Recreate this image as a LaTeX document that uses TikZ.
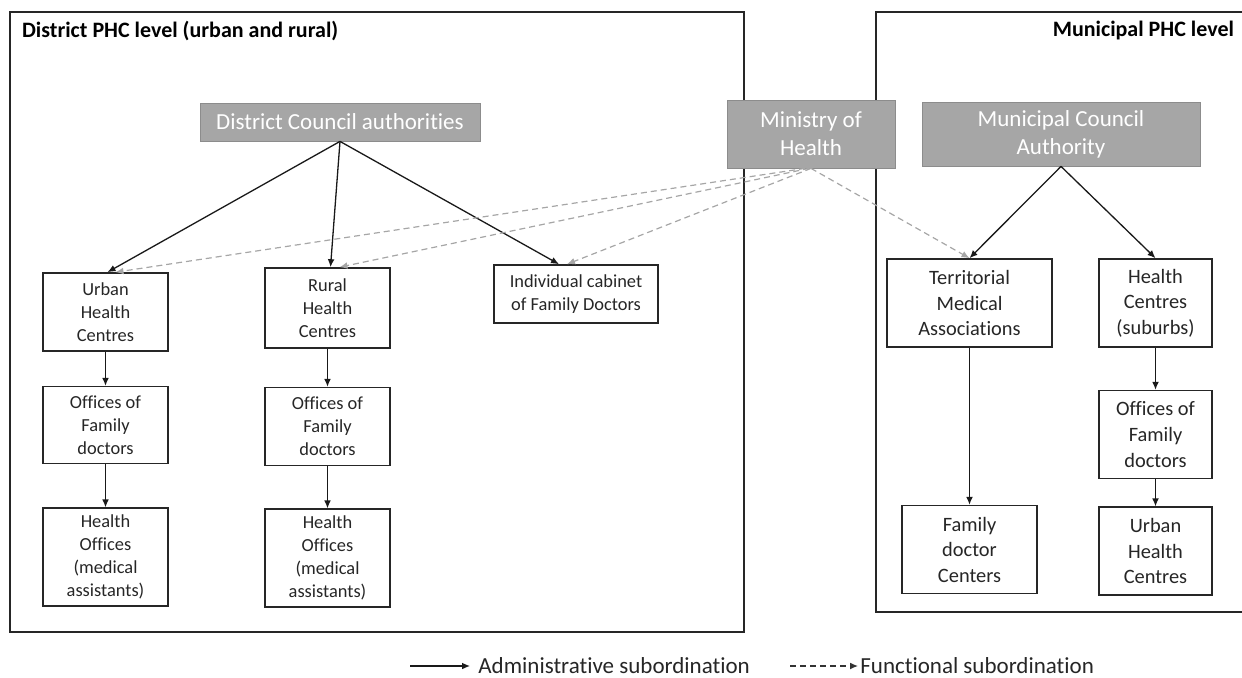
\documentclass[tikz,border=0pt]{standalone}
\usepackage{fontspec}
\setmainfont{Carlito}[Ligatures=NoCommon]
\usetikzlibrary{arrows.meta,positioning,calc}

\begin{document}
\begin{tikzpicture}[
    x=0.5pt, y=-0.5pt,
    >={Latex[length=4pt,width=3.4pt]},
    node distance=17pt,
    level_frame/.style={draw=black!85, line width=0.75pt},
    level_title/.style={font=\fontsize{11}{13}\selectfont\bfseries, text=black},
    auth_node/.style={draw=gray!90, fill=gray!70, text=white, align=center, inner sep=0pt, font=\fontsize{11.5}{14}\selectfont},
    unit_node/.style={draw=black!85, line width=0.8pt, fill=white, align=center, inner sep=0pt, text=black!85, font=\fontsize{9.2}{11.5}\selectfont, minimum width=62.5pt},
    munit_node/.style={unit_node, font=\fontsize{10.2}{12.8}\selectfont},
    admin_edge/.style={->, line width=0.65pt, color=black!90},
    func_edge/.style={->, line width=0.6pt, color=gray!70, dash pattern=on 3pt off 2pt},
    legend_text/.style={anchor=west, inner sep=0pt, text=black!85, font=\fontsize{11.5}{14}\selectfont}
]

\useasboundingbox (0,0) rectangle (1242,678);

% --- LEVEL FRAMES ---
\draw[level_frame] (10,12) rectangle (744,632);
\draw[level_frame] (1242,12) -- (876,12) -- (876,612) -- (1242,612);
\node[level_title, anchor=west] (dtitle) at (15,31) {District PHC level (urban and rural)};
\node[level_title, anchor=east] (mtitle) at (1241,31) {Municipal PHC level};

% --- NODES ---

% Authorities (top)
\node[auth_node, minimum width=140pt, minimum height=19pt] (dca) at (340,122) {District Council authorities};
\node[auth_node, minimum width=84pt, minimum height=34pt] (moh) at (811,134) {Ministry of\\Health};
\node[auth_node, minimum width=139pt, minimum height=32pt] (mca) at (1061,134) {Municipal Council\\Authority};

% District: urban column
\node[unit_node, minimum height=39pt] (uhc) at (105.5,312) {Urban\\Health\\Centres};
\node[unit_node, minimum height=38.5pt, below=17pt of uhc] (ofd_u) {Offices of\\Family\\doctors};
\node[unit_node, minimum height=49pt, below=21.5pt of ofd_u] (ho_u) {Health\\Offices\\(medical\\assistants)};

% District: rural column
\node[unit_node, minimum height=40pt] (rhc) at (327.5,308) {Rural\\Health\\Centres};
\node[unit_node, minimum height=39pt, below=19pt of rhc] (ofd_r) {Offices of\\Family\\doctors};
\node[unit_node, minimum height=49pt, below=21pt of ofd_r] (ho_r) {Health\\Offices\\(medical\\assistants)};

% District: family doctors
\node[unit_node, minimum width=82pt, minimum height=29pt] (icfd) at (576,294) {Individual cabinet\\of Family Doctors};

% Municipal columns
\node[munit_node, minimum width=82.5pt, minimum height=44pt] (tma) at (969.5,303) {Territorial\\Medical\\Associations};
\node[munit_node, minimum width=67.5pt, minimum height=44pt, below=78.5pt of tma] (fdc) {Family\\doctor\\Centers};
\node[munit_node, minimum width=56.5pt, minimum height=44pt] (hcs) at (1155.5,303) {Health\\Centres\\(suburbs)};
\node[munit_node, minimum width=56.5pt, minimum height=44pt, below=21pt of hcs] (ofd_m) {Offices of\\Family\\doctors};
\node[munit_node, minimum width=56.5pt, minimum height=44pt, below=13.5pt of ofd_m] (uhc_m) {Urban\\Health\\Centres};

% --- EDGES ---

% 1. District council
\draw[admin_edge] (dca.south) -- ([xshift=1pt]uhc.north);
\draw[admin_edge] (dca.south) -- ([xshift=1.5pt]rhc.north);
\draw[admin_edge] (dca.south) -- ([xshift=-8.5pt]icfd.north);
\draw[admin_edge] (uhc) -- (ofd_u);
\draw[admin_edge] (ofd_u) -- (ho_u);
\draw[admin_edge] (rhc) -- (ofd_r);
\draw[admin_edge] (ofd_r) -- (ho_r);

% 2. Municipal council
\draw[admin_edge] (mca.south) -- (tma.north);
\draw[admin_edge] (mca.south) -- (hcs.north);
\draw[admin_edge] (tma) -- (fdc);
\draw[admin_edge] (hcs) -- (ofd_m);
\draw[admin_edge] (ofd_m) -- (uhc_m);

% 3. Ministry (functional)
\draw[func_edge] ([xshift=-3pt]moh.south) -- ([xshift=5pt]uhc.north);
\draw[func_edge] ([xshift=-1pt]moh.south) -- ([xshift=6pt]rhc.north);
\draw[func_edge] (moh.south) -- ([xshift=-4.5pt]icfd.north);
\draw[func_edge] (moh.south) -- (tma.north);

% --- LEGEND ---
\coordinate (leg_a) at (410,666);
\node[legend_text] (leg_at) at (478,666) {Administrative subordination};
\draw[admin_edge] (leg_a) -- ([xshift=-4pt]leg_at.west);
\coordinate (leg_f) at (790,666);
\node[legend_text] (leg_ft) at (860,666) {Functional subordination};
\draw[func_edge, color=black!80] (leg_f) -- ([xshift=-1pt]leg_ft.west);

\end{tikzpicture}
\end{document}
